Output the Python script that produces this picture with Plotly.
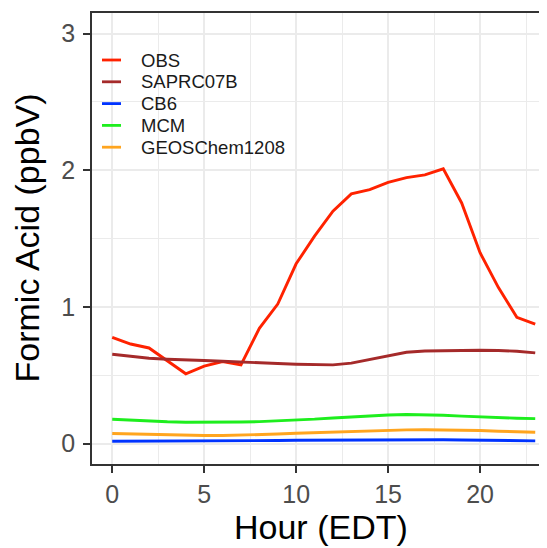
import plotly.graph_objects as go

hours = list(range(24))

obs = [0.777, 0.728, 0.699, 0.602, 0.51, 0.566, 0.60, 0.575, 0.843, 1.02, 1.315,
       1.517, 1.70, 1.826, 1.857, 1.91, 1.945, 1.966, 2.01, 1.76, 1.396, 1.141, 0.923, 0.874]
saprc07b = [0.653, 0.638, 0.624, 0.617, 0.61, 0.607, 0.602, 0.595, 0.59, 0.585, 0.58,
            0.578, 0.575, 0.588, 0.614, 0.643, 0.668, 0.677, 0.68, 0.682, 0.682, 0.68, 0.675, 0.663]
cb6 = [0.017, 0.017, 0.017, 0.017, 0.017, 0.017, 0.018, 0.019, 0.020, 0.022, 0.024,
       0.025, 0.026, 0.027, 0.028, 0.029, 0.029, 0.028, 0.027, 0.026, 0.024, 0.022, 0.020, 0.019]
mcm = [0.177, 0.170, 0.163, 0.159, 0.156, 0.155, 0.155, 0.157, 0.160, 0.165, 0.172,
       0.178, 0.187, 0.195, 0.203, 0.209, 0.212, 0.211, 0.207, 0.200, 0.194, 0.189, 0.185, 0.182]
geos = [0.073, 0.069, 0.065, 0.062, 0.059, 0.058, 0.058, 0.060, 0.064, 0.069, 0.075,
        0.080, 0.084, 0.087, 0.092, 0.096, 0.100, 0.101, 0.100, 0.098, 0.095, 0.090, 0.086, 0.082]

series_names = ["OBS", "SAPRC07B", "CB6", "MCM", "GEOSChem1208"]
series_values = [obs, saprc07b, cb6, mcm, geos]
series_colors = ["#FF2200", "#A52A2A", "#0033FF", "#1EEE1E", "#FFA51F"]

x_ticks = [0, 5, 10, 15, 20]
y_ticks = [0, 1, 2, 3]
x_title = "Hour (EDT)"
y_title = "Formic Acid (ppbV)"

# the page body adds an 8px offset; the figure fills the rest of the 547x548 window
OFF = 8
W, H = 547 - OFF, 548 - OFF
# panel in window pixels: left 92, right 547 (cropped), top 13, bottom 464
ml, mr, mt, mb = 92 - OFF, 0, 13 - OFF, 548 - 464
pw, ph = W - ml - mr, H - mt - mb


def px_x(p):
    return (p - OFF - ml) / pw


def px_y(p):
    return 1 - (p - OFF - mt) / ph


fig = go.Figure()
for name, vals, col in zip(series_names, series_values, series_colors):
    fig.add_trace(go.Scatter(x=hours, y=vals, mode="lines", name=name, showlegend=False,
                             line=dict(color=col, width=2.9)))

# custom legend (ggplot style, compact rows)
shapes = []
annotations = []
leg_row0, leg_step = 60, 21.8
for i, (name, col) in enumerate(zip(series_names, series_colors)):
    yy = px_y(leg_row0 + i * leg_step)
    shapes.append(dict(type="line", xref="paper", yref="paper",
                       x0=px_x(102), x1=px_x(121), y0=yy, y1=yy,
                       line=dict(color=col, width=2.8)))
    annotations.append(dict(xref="paper", yref="paper", x=px_x(139), y=yy,
                            xanchor="left", yanchor="middle", text=name, showarrow=False,
                            font=dict(size=18.5, color="#1A1A1A")))

annotations.append(dict(xref="paper", yref="paper", x=px_x(321), y=px_y(527),
                        xanchor="center", yanchor="middle", text=x_title, showarrow=False,
                        font=dict(size=34, color="black")))
annotations.append(dict(xref="paper", yref="paper", x=px_x(26), y=px_y(238.5),
                        xanchor="center", yanchor="middle", text=y_title, showarrow=False,
                        textangle=-90, font=dict(size=34, color="black")))

fig.update_layout(
    width=W, height=H,
    margin=dict(l=ml, r=mr, t=mt, b=mb, pad=0, autoexpand=False),
    paper_bgcolor="white", plot_bgcolor="white",
    font=dict(family="Liberation Sans, Arial, sans-serif", color="#4D4D4D"),
    showlegend=False,
    shapes=shapes,
    annotations=annotations,
    xaxis=dict(range=[-1.1, 23.64], tickmode="array", tickvals=x_ticks,
               ticks="outside", ticklen=7, tickwidth=2, tickcolor="#333333",
               tickfont=dict(size=25, color="#4D4D4D"), automargin=False,
               showline=True, linecolor="#333333", linewidth=1.5, mirror=True,
               showgrid=True, gridcolor="#EBEBEB", gridwidth=2, zeroline=False,
               minor=dict(tick0=2.5, dtick=5, showgrid=True, gridcolor="#EBEBEB", gridwidth=1)),
    yaxis=dict(range=[-0.15, 3.15], tickmode="array", tickvals=y_ticks,
               ticks="outside", ticklen=7, tickwidth=2, tickcolor="#333333",
               tickfont=dict(size=25, color="#4D4D4D"), automargin=False,
               ticklabelstandoff=3,
               showline=True, linecolor="#333333", linewidth=1.5, mirror=False,
               showgrid=True, gridcolor="#EBEBEB", gridwidth=2, zeroline=False,
               minor=dict(tick0=0.5, dtick=1, showgrid=True, gridcolor="#EBEBEB", gridwidth=1)),
)

fig.write_html("out.html")
